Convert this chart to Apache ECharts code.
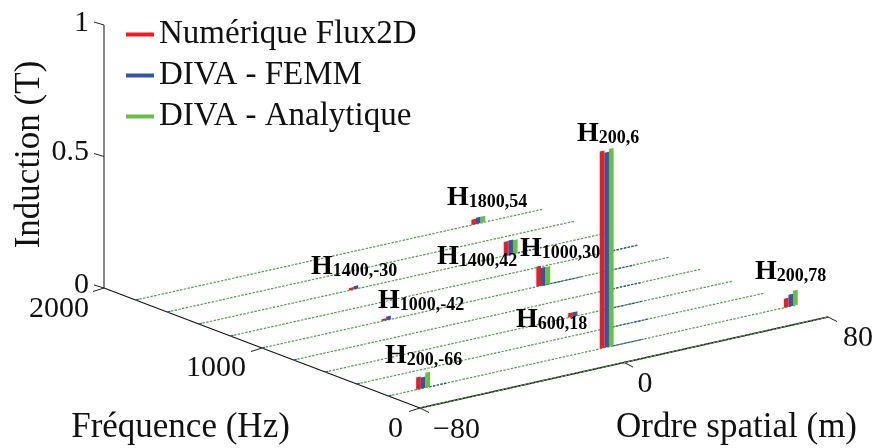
<!DOCTYPE html>
<html><head><meta charset="utf-8">
<style>html,body{margin:0;padding:0;background:#fff}#c{width:875px;height:448px}</style>
<script src="https://cdn.jsdelivr.net/npm/echarts@6/dist/echarts.min.js"></script>
</head><body><div id="c"></div>
<script>
// ---- data ----
const seriesNames = ['Numérique Flux2D', 'DIVA - FEMM', 'DIVA - Analytique'];
const harmonicFreq  = [200, 1800, 1400, 1000, 600, 200, 1400, 1000, 200];
const harmonicOrder = [6, 54.8, 42.7, 30.7, 18.4, 78.2, -18, -30, -66];
const harmonicSub   = ['200,6', '1800,54', '1400,42', '1000,30', '600,18', '200,78', '1400,-30', '1000,-42', '200,-66'];
const fluxValues    = [0.750, 0.020, 0.053, 0.076, 0.017, 0.034, 0.009, 0.008, 0.047];
const femmValues    = [0.742, 0.024, 0.055, 0.068, 0.017, 0.046, 0.012, 0.014, 0.043];
const analyticValues= [0.752, 0.024, 0.052, 0.067, 0.001, 0.057, 0.001, 0.001, 0.057];
const lineFreqs = [0, 200, 400, 600, 800, 1000, 1200, 1400, 1600, 1800];
const blueFreqs = [200, 400, 600, 800, 1000, 1000, 1200, 1400, 200];
const blueFrom  = [8, 20, 33, 45, 30, 57, 70, 45, -64];
const blueTo    = [20, 34, 44, 56, 45, 66, 80, 54, -57];
const orderTicks = [-80, 0, 80];
const freqTicks  = [2000, 1000, 0];
const inductionTicks = [1, 0.5, 0];

// ---- projection of (order, frequency, induction) on the page plane ----
function project(m, f, z) {
  const u = (m + 80) / 160, v = f / 2000;
  return [420 + 408 * u - 316 * v, 408 - 91 * u - 120 * v - 263 * z];
}
const COLORS = ['#ed1c24', '#3953a4', '#6abd45'];
const SERIF = '"Liberation Serif","Times New Roman",serif';
const BAR_OFFSET = [-2.2, -0.4, 1.4], BAR_HALF = 0.92;

function seg(api, a, b, stroke, lw, dash) {
  const p = api.coord(a), q = api.coord(b);
  return {type:'line', shape:{x1:p[0],y1:p[1],x2:q[0],y2:q[1]},
          style:{stroke:stroke,lineWidth:lw,lineDash:dash||null}};
}
function txt(api, pos, text, size, align, extra) {
  const p = api.coord(pos);
  return Object.assign({type:'text', x:p[0], y:p[1], style:{text:text, fill:'#111',
    font:size+'px '+SERIF, textAlign:align, textVerticalAlign:'middle'}}, extra||{});
}

function renderFrame(params, api) {
  const ch = [];
  // axes
  ch.push(seg(api, project(-80,2000,0), project(-80,2000,1), '#555', 1.4));
  ch.push(seg(api, project(-80,2000,0), project(-80,0,0), '#111', 1.1));
  ch.push(seg(api, project(-80,0,0), project(80,0,0), '#111', 1.5));
  // ticks
  inductionTicks.forEach(z => { const p = project(-80,2000,z);
    ch.push(seg(api, p, [p[0]-10,p[1]-3], '#222', 1)); });
  freqTicks.forEach(f => { const p = project(-80,f,0);
    ch.push(seg(api, p, [p[0]-11,p[1]+3.5], '#222', 1)); });
  orderTicks.forEach(m => { const p = project(m,0,0);
    ch.push(seg(api, p, [p[0]+9,p[1]+4.5], '#222', 1)); });
  // spectral lines at zero induction
  lineFreqs.forEach(f => {
    ch.push(seg(api, project(-80,f,0), project(80,f,0), '#4f9f4a', 1.2, [2.4,1.4]));
    if (f) ch.push(seg(api, project(-80,f,0), project(-78.8,f,0), '#3953a4', 1.4));
  });
  blueFreqs.forEach((f,i) => ch.push(seg(api, project(blueFrom[i],f,0), project(blueTo[i],f,0), '#2f5596', 1.2, [2.4,1.4])));
  // tick labels
  const lab = (p,t,a,dx,dy) => ch.push(txt(api,[p[0]+dx,p[1]+dy],t,30,a));
  inductionTicks.forEach(z => lab(project(-80,2000,z), String(z), 'right', -15, z===1?-2:(z===0.5?-4:-3)));
  lab(project(-80,2000,0), '2000', 'right', -15, 21);
  lab(project(-80,1000,0), '1000', 'right', -16, 20);
  lab(project(-80,0,0), '0', 'right', -17, 21);
  lab(project(-80,0,0), '\u221280', 'left', 13, 22);
  lab(project(0,0,0), '0', 'center', 21, 22);
  lab(project(80,0,0), '80', 'left', 15, 21);
  // axis names
  ch.push(txt(api,[180.5,428],'Fréquence (Hz)',35,'center'));
  ch.push(txt(api,[736.5,428],'Ordre spatial (m)',35,'center'));
  ch.push(txt(api,[30,154.5],'Induction (T)',35,'center',{rotation:Math.PI/2}));
  return {type:'group', children:ch};
}

function makeBars(values, k) {
  return function (params, api) {
    const i = params.dataIndex, f = harmonicFreq[i], m = harmonicOrder[i] + BAR_OFFSET[k], z = values[i];
    const pts = [project(m-BAR_HALF,f,0), project(m+BAR_HALF,f,0), project(m+BAR_HALF,f,z), project(m-BAR_HALF,f,z)]
      .map(p => api.coord(p));
    return {type:'polygon', shape:{points:pts}, style:{fill:COLORS[k]}};
  };
}

// placement of each harmonic tag: left edge and vertical centre of the "H"
const tagX = [577, 447, 437, 520, 516, 755, 311, 378, 385];
const tagY = [133, 197, 256, 248, 319, 271, 266, 300, 355];
function renderTag(params, api) {
  const i = params.dataIndex, p = api.coord([tagX[i], tagY[i]]);
  return {type:'text', x:p[0], y:p[1]-13, style:{
    text:'{h|H}{s|'+harmonicSub[i]+'}', textAlign:'left', textVerticalAlign:'top',
    rich:{
      h:{fontFamily:SERIF,fontWeight:'bold',fontSize:28,lineHeight:27,padding:[0,0,5,0],verticalAlign:'top',fill:'#000'},
      s:{fontFamily:SERIF,fontWeight:'bold',fontSize:18,lineHeight:18,verticalAlign:'bottom',fill:'#000'}
    }}};
}

const valueArrays = [fluxValues, femmValues, analyticValues];
const option = {
  animation:false,
  backgroundColor:'#fff',
  grid:{left:0,right:0,top:0,bottom:0},
  xAxis:{type:'value',min:0,max:875,show:false},
  yAxis:{type:'value',min:0,max:448,inverse:true,show:false},
  legend:{show:true,data:seriesNames,orient:'vertical',left:121,top:11,itemWidth:28,itemHeight:4,itemGap:4,
    icon:'rect',selectedMode:false,
    textStyle:{fontFamily:SERIF,fontSize:33,color:'#111',lineHeight:37}},
  series:[
    {type:'custom',name:'frame',coordinateSystem:'cartesian2d',silent:true,clip:false,data:[[0]],renderItem:renderFrame},
    ...seriesNames.map((n,k)=>({type:'custom',name:n,coordinateSystem:'cartesian2d',silent:true,clip:false,
      itemStyle:{color:COLORS[k]},data:valueArrays[k].map((v,i)=>[i,v]),renderItem:makeBars(valueArrays[k],k)})),
    {type:'custom',name:'tags',coordinateSystem:'cartesian2d',silent:true,clip:false,
      data:harmonicSub.map((s,i)=>[i]),renderItem:renderTag}
  ]
};
echarts.init(document.getElementById('c'),null,{renderer:'canvas'}).setOption(option);
</script></body></html>
